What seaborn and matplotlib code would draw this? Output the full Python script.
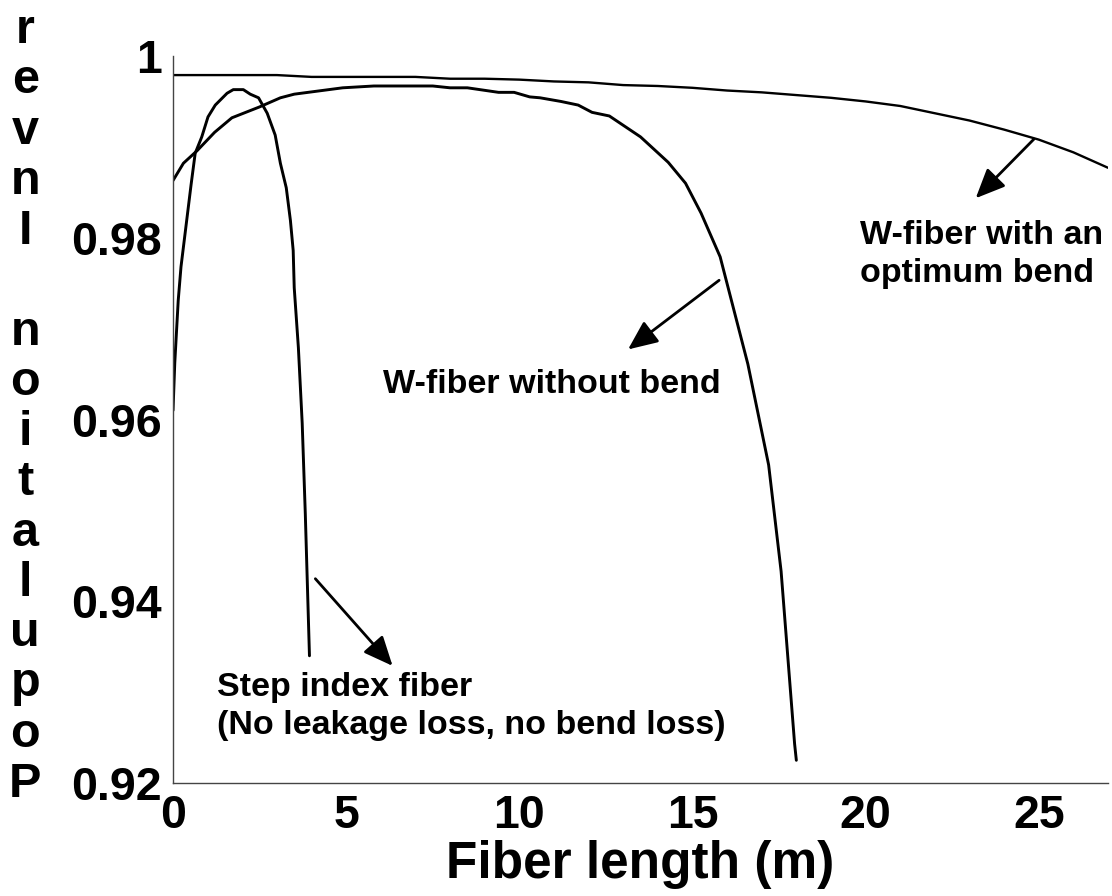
import numpy as np
import pandas as pd
import seaborn as sns
import matplotlib.pyplot as plt

# curves
bend_x = [0, 1, 2, 3, 4, 5, 6, 7, 8, 9, 10, 11, 12, 13, 14, 15, 16, 17, 18, 19, 20,
          21, 22, 23, 24, 25, 26, 27]
bend_y = [0.9979, 0.9979, 0.9979, 0.9979, 0.9977, 0.9977, 0.9977, 0.9977, 0.9975,
          0.9975, 0.9974, 0.9972, 0.9971, 0.9968, 0.9967, 0.9965, 0.9962, 0.9960,
          0.9957, 0.9954, 0.9950, 0.9945, 0.9937, 0.9929, 0.9919, 0.9908, 0.9894, 0.9877]

nobend_x = [0, 0.3, 0.7, 1.2, 1.7, 2.5, 3.1, 3.5, 4.9, 5.8, 7.5, 8.0, 8.5, 9.4, 9.85,
            10.3, 10.6, 11.2, 11.7, 12.1, 12.6, 13.5, 14.3, 14.8, 15.25, 15.8, 16.6,
            17.2, 17.56, 17.95, 18.0]
nobend_y = [0.9863, 0.9882, 0.9896, 0.9916, 0.9932, 0.9944, 0.9954, 0.9958, 0.9965,
            0.9967, 0.9967, 0.9965, 0.9965, 0.9960, 0.9960, 0.9955, 0.9954, 0.9950,
            0.9946, 0.9938, 0.9934, 0.9911, 0.9883, 0.9860, 0.9827, 0.9779, 0.9661,
            0.9550, 0.9433, 0.9243, 0.9225]

step_x = [0, 0.05, 0.15, 0.23, 0.52, 0.64, 0.83, 1.01, 1.22, 1.56, 1.74, 2.03, 2.23,
          2.47, 2.72, 2.95, 3.1, 3.27, 3.39, 3.47, 3.5, 3.62, 3.73, 3.82, 3.94]
step_y = [0.9610, 0.9662, 0.9731, 0.9768, 0.9858, 0.9893, 0.9911, 0.9933, 0.9946,
          0.9959, 0.9963, 0.9963, 0.9958, 0.9954, 0.9937, 0.9913, 0.9882, 0.9855,
          0.9819, 0.9786, 0.9745, 0.9679, 0.9596, 0.9496, 0.9340]

x_ticks = [0, 5, 10, 15, 20, 25]
y_ticks = [0.92, 0.94, 0.96, 0.98, 1.0]
y_tick_labels = ["0.92", "0.94", "0.96", "0.98", "1"]

sns.set_style("white")
plt.rcParams['font.family'] = ['Liberation Sans', 'DejaVu Sans']
plt.rcParams['font.weight'] = 'bold'
plt.rcParams['text.color'] = 'black'
plt.rcParams['axes.labelcolor'] = 'black'
plt.rcParams['xtick.color'] = 'black'
plt.rcParams['ytick.color'] = 'black'

fig = plt.figure(figsize=(11.12, 8.96), dpi=100)
ax = fig.add_axes([0.1556, 0.1261, 0.9964 - 0.1556, 0.9375 - 0.1261])

sns.lineplot(x=bend_x, y=bend_y, ax=ax, color='black', lw=1.7)
sns.lineplot(x=nobend_x, y=nobend_y, ax=ax, color='black', lw=2.1)
sns.lineplot(x=step_x, y=step_y, ax=ax, color='black', lw=2.1)

ax.set_xlim(0, 27)
ax.set_ylim(0.92, 1.0)
ax.set_xticks(x_ticks)
ax.set_yticks(y_ticks)
ax.set_yticklabels(y_tick_labels)
ax.tick_params(direction='in', length=7, width=1, color='#444', labelcolor='black',
               labelsize=33.5, pad=8)
for lab in ax.get_xticklabels() + ax.get_yticklabels():
    lab.set_fontweight('bold')

for s in ['top', 'right']:
    ax.spines[s].set_visible(False)
for s in ['left', 'bottom']:
    ax.spines[s].set_color('#444')
    ax.spines[s].set_linewidth(1)

ax.set_xlabel("Fiber length (m)", fontsize=37, fontweight='bold', va='baseline')
ax.xaxis.set_label_coords(0.5, -0.1307)
ax.set_ylabel("\n".join(reversed("Population Inver")), rotation=0, fontsize=35,
              fontweight='bold', linespacing=1.15, ha='center', va='center')
ax.yaxis.set_label_coords(-0.158, 0.5165)

arrow = dict(arrowstyle="-|>,head_length=0.5,head_width=0.22", color='black', lw=2,
             mutation_scale=36, shrinkA=0, shrinkB=0)
ax.annotate("", xy=(23.18, 0.98435), xytext=(24.86, 0.99085), arrowprops=arrow)
ax.annotate("", xy=(13.14, 0.96771), xytext=(15.77, 0.97532), arrowprops=arrow)
ax.annotate("", xy=(6.34, 0.93289), xytext=(4.11, 0.94248), arrowprops=arrow)

ax.text(19.83, 0.97510, "W-fiber with an\noptimum bend", fontsize=24.5,
        fontweight='bold', va='baseline', ha='left', linespacing=1.3)
ax.text(6.05, 0.96287, "W-fiber without bend", fontsize=24.5,
        fontweight='bold', va='baseline', ha='left')
ax.text(1.27, 0.92540, "Step index fiber\n(No leakage loss, no bend loss)", fontsize=24.5,
        fontweight='bold', va='baseline', ha='left', linespacing=1.3)

fig.savefig("out.png", dpi=100)
